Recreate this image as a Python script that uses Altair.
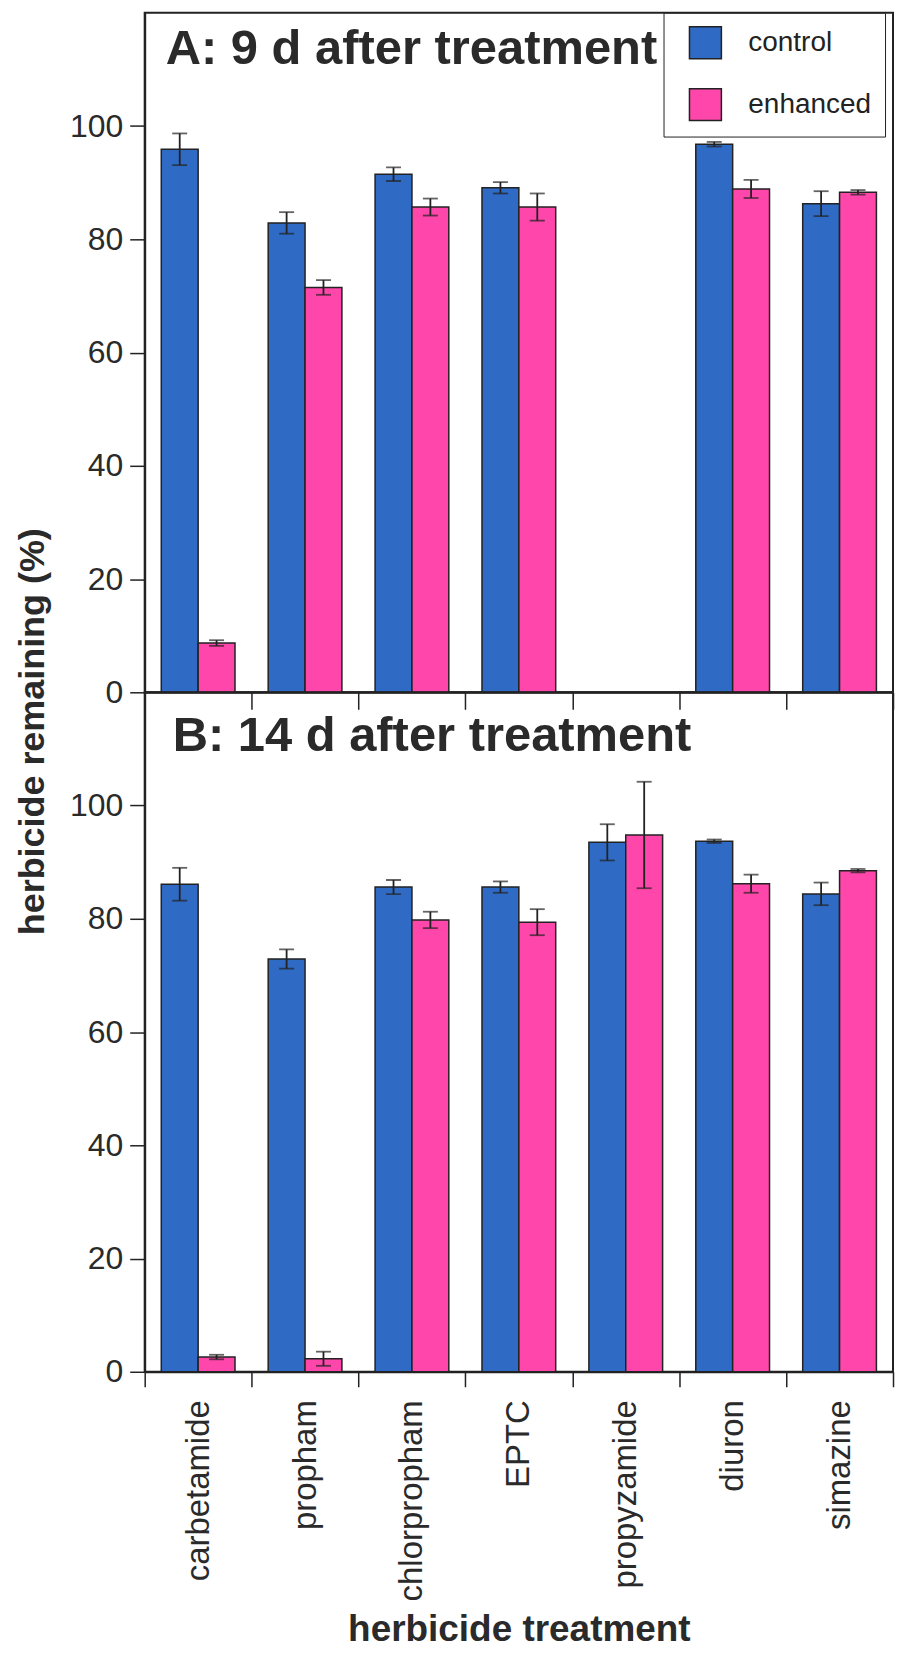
import altair as alt
import pandas as pd

# ---- data ----
herbicides = ["carbetamide", "propham", "chlorpropham", "EPTC",
              "propyzamide", "diuron", "simazine"]
series = ["control", "enhanced"]

# Panel A: 9 d after treatment (propyzamide not measured)
a_control = [95.9, 82.9, 91.5, 89.1, None, 96.8, 86.3]
a_control_err = [2.8, 1.9, 1.2, 1.0, None, 0.4, 2.2]
a_enhanced = [8.7, 71.5, 85.7, 85.7, None, 88.9, 88.3]
a_enhanced_err = [0.5, 1.3, 1.5, 2.4, None, 1.6, 0.4]

# Panel B: 14 d after treatment
b_control = [86.1, 72.9, 85.6, 85.6, 93.5, 93.7, 84.4]
b_control_err = [2.9, 1.7, 1.25, 1.0, 3.2, 0.3, 2.0]
b_enhanced = [2.6, 2.3, 79.8, 79.4, 94.8, 86.2, 88.5]
b_enhanced_err = [0.4, 1.25, 1.45, 2.3, 9.4, 1.6, 0.3]

panel_titles = ["A: 9 d after treatment", "B: 14 d after treatment"]
y_ticks = [0, 20, 40, 60, 80, 100]


def make_frame(ctrl, ctrl_err, enh, enh_err):
    rows = []
    for i, h in enumerate(herbicides):
        for s, v, e in (("control", ctrl[i], ctrl_err[i]),
                        ("enhanced", enh[i], enh_err[i])):
            if v is None:
                continue
            rows.append({"herbicide": h, "series": s, "value": v,
                         "lo": v - e, "hi": v + e})
    return pd.DataFrame(rows)


df_a = make_frame(a_control, a_control_err, a_enhanced, a_enhanced_err)
df_b = make_frame(b_control, b_control_err, b_enhanced, b_enhanced_err)

FONT = "Liberation Sans, Arial, Helvetica, sans-serif"
INK = "#222222"
TEXT = "#2a2a2a"
BLUE = "#2F6BC4"
PINK = "#FF46AA"

W, H = 750, 681

x_scale = alt.Scale(domain=herbicides, paddingInner=0, paddingOuter=0)
xo_scale = alt.Scale(domain=series, paddingInner=0, paddingOuter=0.45)
y_scale = alt.Scale(domain=[0, 120], nice=False)
color_scale = alt.Scale(domain=series, range=[BLUE, PINK])


def panel(df, title, x_axis, y_axis, legend, tx, ty):
    base = alt.Chart(df)
    xenc = alt.X("herbicide:N", scale=x_scale, axis=x_axis, sort=herbicides)
    xoenc = alt.XOffset("series:N", scale=xo_scale, sort=series)
    bars = base.mark_bar(stroke=INK, strokeWidth=1.5).encode(
        x=xenc,
        xOffset=xoenc,
        y=alt.Y("value:Q", scale=y_scale, axis=y_axis),
        color=alt.Color("series:N", scale=color_scale, legend=legend),
    )
    rules = base.mark_rule(color=INK, strokeWidth=1.8).encode(
        x=xenc, xOffset=xoenc,
        y=alt.Y("lo:Q", scale=y_scale, axis=y_axis), y2="hi:Q",
    )
    cap_lo = base.mark_tick(color=INK, thickness=1.8, size=15).encode(
        x=xenc, xOffset=xoenc, y=alt.Y("lo:Q", scale=y_scale, axis=y_axis),
    )
    cap_hi = base.mark_tick(color=INK, thickness=1.8, size=15).encode(
        x=xenc, xOffset=xoenc, y=alt.Y("hi:Q", scale=y_scale, axis=y_axis),
    )
    label = alt.Chart(pd.DataFrame({"label": [title]})).mark_text(
        font=FONT, fontSize=49, fontWeight="bold", color=TEXT,
        align="left", baseline="top",
    ).encode(text="label:N", x=alt.value(tx), y=alt.value(ty))
    return alt.layer(bars, rules, cap_lo, cap_hi, label).properties(
        width=W, height=H,
    )


y_axis_a = alt.Axis(values=y_ticks, tickSize=15, labelFontSize=32,
                    labelPadding=7, title="herbicide remaining (%)",
                    titleFontSize=36, titleFontWeight="bold",
                    titlePadding=18, titleY=720, grid=False)
y_axis_b = alt.Axis(values=y_ticks, tickSize=15, labelFontSize=32,
                    labelPadding=7, title=None, grid=False)

x_axis_a = alt.Axis(labels=False, ticks=True, tickSize=17, tickBand="extent",
                    title=None, grid=False)
x_axis_b = alt.Axis(labelAngle=-90, labelAlign="right", labelBaseline="middle",
                    labelFontSize=33, labelPadding=13, labelLimit=400,
                    tickSize=15, tickBand="extent",
                    title="herbicide treatment",
                    titleFontSize=37, titleFontWeight="bold", titlePadding=40,
                    grid=False)

legend_a = alt.Legend(title=None, orient="none", legendX=520, legendY=0,
                      fillColor="white", strokeColor=INK, padding=13,
                      symbolType="square", symbolSize=1024,
                      symbolStrokeColor=INK, symbolStrokeWidth=1.5,
                      labelFontSize=28, labelOffset=26, rowPadding=24,
                      symbolOffset=12, labelFont=FONT, labelColor=INK,
                      labelLimit=300)

top = panel(df_a, panel_titles[0], x_axis_a, y_axis_a, legend_a, 21, 12)
bottom = panel(df_b, panel_titles[1], x_axis_b, y_axis_b, None, 28, 20)

chart = alt.vconcat(top, bottom, spacing=0, bounds="flush").resolve_legend(
    color="independent"
).configure_view(
    stroke=INK, strokeWidth=2
).configure_axis(
    labelFont=FONT, titleFont=FONT, labelColor=TEXT, titleColor=TEXT,
    domainColor=INK, tickColor=INK, domainWidth=2, tickWidth=1.5,
).properties(
    padding={"left": 5, "top": 1, "right": 0, "bottom": 0},
    background="white",
)

chart.save("out.html", embed_options={"renderer": "svg", "actions": False})
